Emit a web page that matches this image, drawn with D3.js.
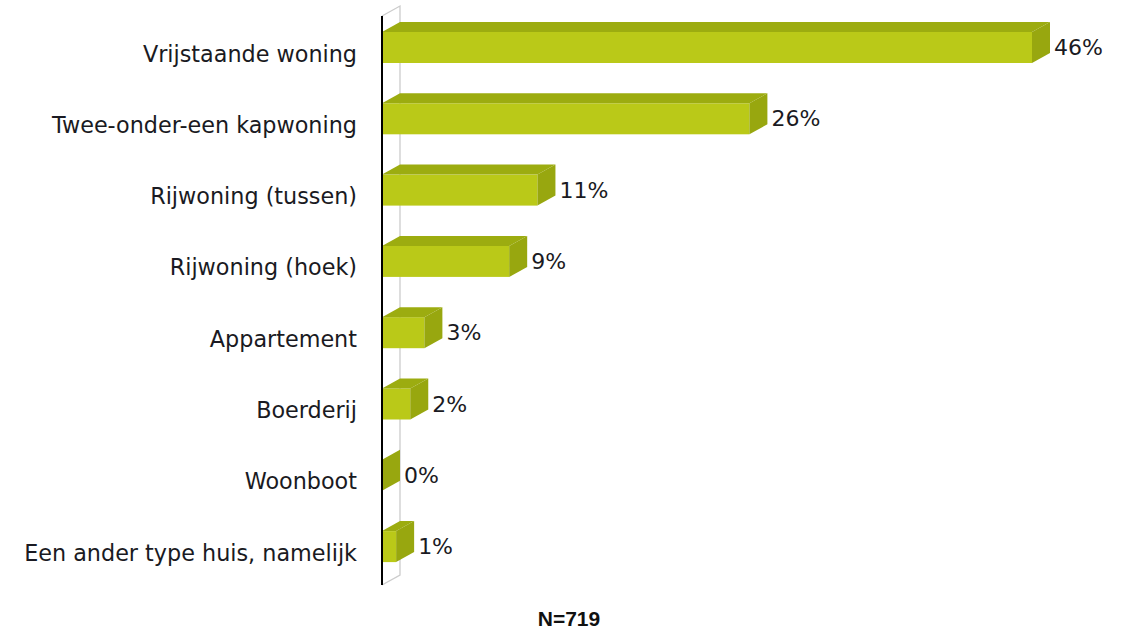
<!DOCTYPE html>
<html>
<head>
<meta charset="utf-8">
<script src="https://cdn.jsdelivr.net/npm/d3@7"></script>
<style>
  body { margin: 0; background: #fff; }
  svg { display: block; }
</style>
</head>
<body>
<div id="chart"></div>
<script>
// data
const categories = [
  "Vrijstaande woning",
  "Twee-onder-een kapwoning",
  "Rijwoning (tussen)",
  "Rijwoning (hoek)",
  "Appartement",
  "Boerderij",
  "Woonboot",
  "Een ander type huis, namelijk"
];
const values = [46, 26, 11, 9, 3, 2, 0, 1];
const footnote = "N=719";

const width = 1130;
const height = 629;

// 3d depth of the bars
const dx = 18;
const dy = 10;

const svg = d3.select("#chart")
  .append("svg")
  .attr("width", width)
  .attr("height", height);

const x = d3.scaleLinear().domain([0, 46]).range([382, 1032]);
const y = d3.scalePoint().domain(categories).range([11.85, 582.25]).padding(0.5);
const barH = 31;

const frontColour = "#bac918";
const topColour = "#9cac10";
const sideColour = "#98a70f";
const textColour = "#1a1a22";

// back wall line
const x0 = x(0);
svg.append("path")
  .attr("d", `M${x0},16 L${x0 + dx},${16 - dy} L${x0 + dx},${585 - dy} L${x0},585`)
  .attr("fill", "none")
  .attr("stroke", "#cccccc")
  .attr("stroke-width", 1.3);

const bars = svg.selectAll("g.bar")
  .data(categories.map((c, i) => ({ cat: c, value: values[i] })))
  .join("g")
  .attr("class", "bar");

bars.each(function (d) {
  const g = d3.select(this);
  const y0 = y(d.cat) - barH / 2;
  const y1 = y0 + barH;
  const xa = x(0);
  const xb = x(d.value);

  if (d.value > 0) {
    g.append("rect")
      .attr("x", xa)
      .attr("y", y0)
      .attr("width", xb - xa)
      .attr("height", barH)
      .attr("fill", frontColour);
    g.append("path")
      .attr("d", `M${xa},${y0} L${xa + dx},${y0 - dy} L${xb + dx},${y0 - dy} L${xb},${y0} Z`)
      .attr("fill", topColour);
  }
  g.append("path")
    .attr("d", `M${xb},${y0} L${xb + dx},${y0 - dy} L${xb + dx},${y1 - dy} L${xb},${y1} Z`)
    .attr("fill", sideColour);

  g.append("text")
    .attr("x", xb + dx + 4)
    .attr("y", y(d.cat) + 7.5)
    .attr("font-family", "DejaVu Sans, Verdana, sans-serif")
    .attr("font-size", 22)
    .attr("fill", textColour)
    .text(d.value + "%");
});

// category labels
svg.selectAll("text.cat")
  .data(categories)
  .join("text")
  .attr("class", "cat")
  .attr("x", 357)
  .attr("y", (d) => y(d) + 14)
  .attr("text-anchor", "end")
  .attr("font-family", "DejaVu Sans, Verdana, sans-serif")
  .attr("font-size", 22.3)
  .attr("fill", textColour)
  .text((d) => d);

// axis line
svg.append("line")
  .attr("x1", x0).attr("x2", x0)
  .attr("y1", 16).attr("y2", 585)
  .attr("stroke", "#000")
  .attr("stroke-width", 2);

svg.append("text")
  .attr("x", 569)
  .attr("y", 626)
  .attr("text-anchor", "middle")
  .attr("font-family", "Liberation Sans, Arial, sans-serif")
  .attr("font-weight", "bold")
  .attr("font-size", 21)
  .attr("fill", "#111")
  .text(footnote);
</script>
</body>
</html>
